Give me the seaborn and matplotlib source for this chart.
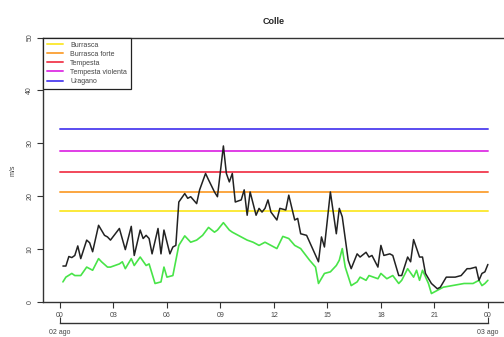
import numpy as np
import pandas as pd
import seaborn as sns
import matplotlib.pyplot as plt

# --- wind record for the station, 10-minute readings (m/s) ---
gust_times = ["00:10", "00:20", "00:30", "00:40", "00:50", "01:00", "01:10", "01:30", "01:40", "01:50",
              "02:10", "02:30", "02:40", "02:50", "03:20", "03:40", "04:00", "04:10", "04:30", "04:40",
              "04:50", "05:00", "05:10", "05:30", "05:40", "05:50", "06:10", "06:20", "06:30", "06:40",
              "07:00", "07:10", "07:20", "07:40", "07:50", "08:10", "08:20", "08:40", "08:50", "09:10",
              "09:20", "09:30", "09:40", "09:50", "10:10", "10:20", "10:30", "10:40", "11:00", "11:10",
              "11:20", "11:30", "11:40", "11:50", "12:10", "12:20", "12:40", "12:50", "13:10", "13:20",
              "13:30", "13:50", "14:30", "14:40", "14:50", "15:10", "15:30", "15:40", "15:50", "16:10",
              "16:20", "16:40", "16:50", "17:10", "17:20", "17:30", "17:50", "18:00", "18:10", "18:30",
              "18:40", "19:00", "19:10", "19:30", "19:40", "19:50", "20:10", "20:20", "20:30", "20:50",
              "21:10", "21:20", "21:40", "22:10", "22:30", "22:50", "23:00", "23:20", "23:30", "23:40",
              "23:50", "24:00"]
gust_ms = [6.8, 6.8, 8.6, 8.4, 8.8, 10.6, 8.2, 11.7, 11.2, 9.5,
           14.5, 12.6, 12.3, 11.7, 13.9, 9.9, 14.3, 8.8, 13.6, 12.0,
           12.6, 12.0, 9.1, 13.9, 9.1, 13.6, 9.1, 10.4, 10.7, 18.9,
           20.5, 19.6, 19.9, 18.6, 21.2, 24.3, 23.1, 20.8, 19.9, 29.5,
           24.3, 22.7, 24.3, 18.9, 19.3, 21.2, 16.4, 20.8, 16.4, 17.7,
           17.0, 17.7, 19.3, 17.0, 15.5, 17.7, 17.4, 20.2, 15.5, 15.8,
           12.9, 12.6, 7.6, 12.3, 10.4, 20.8, 12.9, 17.7, 16.1, 7.9,
           6.3, 9.1, 8.5, 9.4, 8.5, 8.8, 6.6, 10.7, 8.8, 9.1,
           8.8, 5.0, 5.0, 8.5, 7.6, 11.8, 8.5, 8.5, 5.4, 3.5,
           2.5, 2.8, 4.7, 4.7, 5.0, 6.3, 6.3, 6.6, 4.1, 5.4,
           5.7, 7.1]

mean_times = ["00:10", "00:20", "00:40", "00:50", "01:10", "01:30", "01:50", "02:10", "02:20", "02:40",
              "02:50", "03:20", "03:30", "03:40", "04:00", "04:10", "04:30", "04:50", "05:00", "05:20",
              "05:40", "05:50", "06:00", "06:20", "06:40", "07:00", "07:20", "07:40", "08:00", "08:20",
              "08:40", "08:50", "09:10", "09:30", "09:40", "10:10", "10:30", "10:50", "11:10", "11:30",
              "11:50", "12:10", "12:30", "12:50", "13:10", "13:30", "14:00", "14:20", "14:30", "14:50",
              "15:10", "15:30", "15:40", "15:50", "16:00", "16:20", "16:40", "16:50", "17:10", "17:20",
              "17:50", "18:00", "18:20", "18:40", "19:00", "19:10", "19:30", "19:50", "20:00", "20:10",
              "20:20", "20:40", "20:50", "21:10", "21:30", "22:00", "22:40", "23:10", "23:30", "23:40",
              "23:50", "24:00"]
mean_ms = [3.8, 4.7, 5.4, 5.0, 5.0, 6.6, 6.0, 8.2, 7.6, 6.6,
           6.6, 7.2, 7.6, 6.3, 8.2, 6.9, 8.5, 6.9, 7.2, 3.5,
           3.8, 6.6, 4.7, 5.0, 10.7, 12.5, 11.3, 11.7, 12.6, 14.1,
           13.2, 13.6, 15.0, 13.6, 13.2, 12.3, 11.7, 11.3, 10.7, 11.3,
           10.7, 10.1, 12.4, 12.0, 10.7, 10.1, 7.9, 6.6, 3.5, 5.4,
           5.7, 6.9, 7.9, 10.1, 6.6, 3.1, 3.8, 4.7, 4.1, 5.0,
           4.4, 5.4, 4.4, 5.0, 3.5, 4.1, 6.3, 4.7, 6.0, 4.1,
           6.0, 3.5, 1.6, 2.2, 2.8, 3.1, 3.5, 3.5, 4.1, 3.1,
           3.5, 4.1]

# Beaufort thresholds (m/s)
threshold_names = ["Burrasca", "Burrasca forte", "Tempesta", "Tempesta violenta", "Uragano"]
threshold_values = [17.2, 20.8, 24.5, 28.5, 32.7]

hour_ticks = [0, 3, 6, 9, 12, 15, 18, 21, 24]
hour_labels = ["00", "03", "06", "09", "12", "15", "18", "21", "00"]
day_labels = ["02 ago", "03 ago"]

threshold_colors = ["#fbe93a", "#fba640", "#f2485a", "#e03ee6", "#5a4cf0"]


def to_hours(stamps):
    return [int(s.split(":")[0]) + int(s.split(":")[1]) / 60 for s in stamps]


gust = pd.DataFrame({"ora": to_hours(gust_times), "vento": gust_ms})
mean = pd.DataFrame({"ora": to_hours(mean_times), "vento": mean_ms})
span = [min(gust["ora"].min(), 0), gust["ora"].max()]
soglie = pd.DataFrame({
    "soglia": np.repeat(threshold_names, 2),
    "ora": span * len(threshold_names),
    "vento": np.repeat(threshold_values, 2),
})

sns.set_style("ticks")
plt.rcParams["font.family"] = ["Liberation Sans", "DejaVu Sans"]

W, H = 504, 337
fig = plt.figure(figsize=(W / 100, H / 100), dpi=100)
ax = fig.add_axes([43 / W, (H - 302) / H, 462 / W, 264.5 / H])

sns.lineplot(data=soglie, x="ora", y="vento", hue="soglia", hue_order=threshold_names,
             palette=dict(zip(threshold_names, threshold_colors)), linewidth=1.4,
             sort=False, ax=ax)
sns.lineplot(data=mean, x="ora", y="vento", color="#48e448", linewidth=1.2, ax=ax, legend=False)
sns.lineplot(data=gust, x="ora", y="vento", color="#222222", linewidth=1.1, ax=ax, legend=False)

ax.set_xlim(-0.95, 24.96)
ax.set_ylim(0, 50)
ax.set_xticks(hour_ticks)
ax.set_xticklabels(hour_labels)
ax.set_yticks(range(0, 51, 10))
ax.set_yticklabels([str(v) for v in range(0, 51, 10)], rotation=90, va="center")
ax.tick_params(axis="both", length=4, width=0.8, labelsize=5, pad=3, colors="#333333",
               labelcolor="#444444")
ax.set_xlabel("")
ax.set_ylabel("m/s", fontsize=5, color="#444444", labelpad=7)
for s in ax.spines.values():
    s.set_linewidth(1.0)
    s.set_color("#333333")
ax.set_title("Colle", fontsize=6.5, fontweight="bold", pad=10)

leg = ax.legend(loc="upper left", borderaxespad=0, fontsize=5, frameon=True, fancybox=False,
                edgecolor="#222222", framealpha=1, handlelength=2.3, handletextpad=1.0,
                labelspacing=0.3, borderpad=0.6, title=None)
leg.get_frame().set_linewidth(0.9)
for t in leg.get_texts():
    t.set_color("#444444")

# date axis under the hour axis
ax2 = fig.add_axes([60 / W, (H - 323) / H, 428 / W, 0.0001])
ax2.set_xlim(0, 24)
ax2.set_xticks([0, 24])
ax2.set_xticklabels(day_labels)
ax2.set_yticks([])
ax2.patch.set_visible(False)
for side in ["top", "left", "right"]:
    ax2.spines[side].set_visible(False)
ax2.spines["bottom"].set_linewidth(1.0)
ax2.spines["bottom"].set_color("#333333")
ax2.tick_params(axis="x", direction="in", length=4, width=0.8, labelsize=5, pad=4,
                colors="#333333", labelcolor="#444444")

fig.savefig("out.png", dpi=100)
